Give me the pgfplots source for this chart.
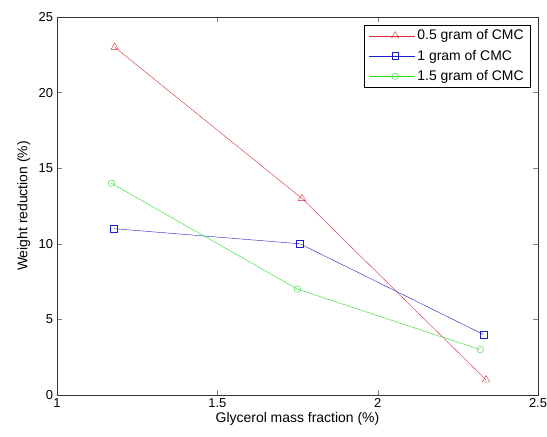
\documentclass[border=0pt]{standalone}
\usepackage{fontspec}
\setmainfont{Liberation Sans}
\usepackage{pgfplots}
\pgfplotsset{compat=1.18}
\definecolor{mred}{RGB}{218,40,52}
\definecolor{mblue}{RGB}{30,30,200}
\definecolor{mgreen}{RGB}{40,220,40}
\newcommand{\mfont}{\fontsize{14}{16}\selectfont}
\newcommand{\tfont}{\fontsize{13}{15}\selectfont}
\begin{document}
\mfont
\begin{tikzpicture}
\begin{axis}[
  name=ax,
  scale only axis, width=481bp, height=378bp,
  xmin=1, xmax=2.5, ymin=0, ymax=25,
  xtick={1,1.5,2,2.5}, ytick={0,5,10,15,20,25},
  xticklabels={1,1.5,2,2.5},
  tick align=inside, tick pos=both, major tick length=5bp,
  /pgf/number format/assume math mode=true,
  tick label style={font=\tfont},
  xticklabel style={yshift=1bp},
  yticklabel style={xshift=1bp},
  xlabel={Glycerol mass fraction (\%)},
  ylabel={Weight reduction (\%)},
  label style={font=\mfont},
  xlabel style={yshift=5bp},
  ylabel style={yshift=-1bp},
  axis line style={black!80},
  legend style={at={(0.985,0.98)}, anchor=north east, draw=black,
    font=\mfont, row sep=4bp, inner xsep=5bp, inner ysep=3bp},
  legend cell align=left,
  legend image code/.code={
    \draw[mark repeat=2, mark phase=2, #1]
      plot coordinates {(0bp,0bp) (26bp,0bp) (46bp,0bp)};
  },
]
\addplot[mred, mark=triangle, mark size=4.3pt] coordinates {(1.18,23) (1.764,13) (2.338,1)};
\addlegendentry{0.5 gram of CMC}
\addplot[mblue, mark=square, mark size=3.4pt] coordinates {(1.178,11) (1.758,10) (2.33,4)};
\addlegendentry{1 gram of CMC}
\addplot[mgreen, mark=o, mark size=3.3pt] coordinates {(1.17,14) (1.75,7) (2.32,3)};
\addlegendentry{1.5 gram of CMC}
\end{axis}
\pgfresetboundingbox
\path (ax.south west) ++(-57bp,-42bp) rectangle ++(547bp,437bp);
\end{tikzpicture}
\end{document}
